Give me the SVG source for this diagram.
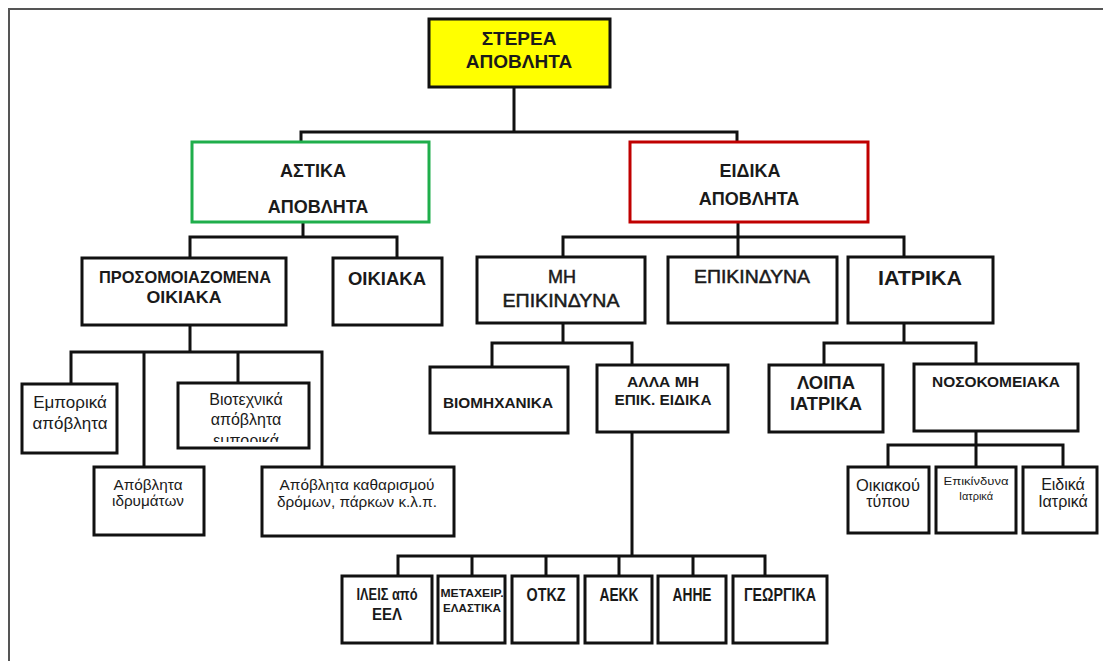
<svg xmlns="http://www.w3.org/2000/svg" width="1103" height="661" viewBox="0 0 1103 661">
<style>
.frame{fill:none;stroke:#555;stroke-width:2}
.box{fill:#fff;stroke:#111;stroke-width:3}
.conn{fill:none;stroke:#111;stroke-width:3;stroke-linejoin:miter}
text{font-family:"Liberation Sans",Arial,sans-serif;fill:#1a1a1a;text-anchor:middle}
.b{font-weight:bold}
.r{font-weight:normal}
.m{font-weight:normal;stroke:#1a1a1a;stroke-width:0.5}
</style>
<defs>
<clipPath id="clipBio"><rect x="180" y="384" width="129" height="58"/></clipPath>
</defs>
<rect width="1103" height="661" fill="#fff"/>
<path class="frame" d="M9,661 V9 H1103"/>

<g id="connectors">
<path class="conn" d="M514,87 V132 M301,142 V132 H737 V142"/>
<path class="conn" d="M303,222 V237 M190,258 V237 H397 V258"/>
<path class="conn" d="M738,222 V257 M563,257 V237 H904 V257"/>
<path class="conn" d="M190,325 V352 M71,384 V352 H322 V467 M144,352 V467 M238,352 V383"/>
<path class="conn" d="M563,323 V343 M492,367 V343 H632 V365"/>
<path class="conn" d="M632,432 V556 M398,576 V556 H765 V576 M472,556 V576 M546,556 V576 M619,556 V576 M693,556 V576"/>
<path class="conn" d="M904,323 V343 M824,365 V343 H976 V364"/>
<path class="conn" d="M976,431 V445 M888,467 V445 H1063 V467 M976,445 V467"/>
</g>

<g id="n-root">
<rect x="429" y="19" width="181" height="68" fill="#ffff00" stroke="#111" stroke-width="3"/>
<text class="b" x="519" y="45" font-size="19">ΣΤΕΡΕΑ</text>
<text class="b" x="519" y="68" font-size="19">ΑΠΟΒΛΗΤΑ</text>
</g>

<g id="n-astika">
<rect x="192" y="142" width="237" height="80" fill="#fff" stroke="#1fae4b" stroke-width="3"/>
<text class="b" x="313" y="177" font-size="18">ΑΣΤΙΚΑ</text>
<text class="b" x="318" y="213" font-size="18">ΑΠΟΒΛΗΤΑ</text>
</g>

<g id="n-eidika">
<rect x="630" y="142" width="238" height="80" fill="#fff" stroke="#c00000" stroke-width="3"/>
<text class="b" x="750" y="177" font-size="18">ΕΙΔΙΚΑ</text>
<text class="b" x="749" y="205" font-size="18">ΑΠΟΒΛΗΤΑ</text>
</g>

<g id="n-prosomoiazomena">
<rect class="box" x="82" y="258" width="204" height="67"/>
<text class="b" x="185" y="283" font-size="17" textLength="172" lengthAdjust="spacingAndGlyphs">ΠΡΟΣΟΜΟΙΑΖΟΜΕΝΑ</text>
<text class="b" x="184" y="303" font-size="17" textLength="75" lengthAdjust="spacingAndGlyphs">ΟΙΚΙΑΚΑ</text>
</g>

<g id="n-oikiaka">
<rect class="box" x="333" y="258" width="109" height="67"/>
<text class="b" x="387" y="285" font-size="18" textLength="78" lengthAdjust="spacingAndGlyphs">ΟΙΚΙΑΚΑ</text>
</g>

<g id="n-mi-epikindyna">
<rect class="box" x="477" y="257" width="168" height="66"/>
<text class="m" x="562" y="283" font-size="18">ΜΗ</text>
<text class="m" x="561" y="307" font-size="18" textLength="117" lengthAdjust="spacingAndGlyphs">ΕΠΙΚΙΝΔΥΝΑ</text>
</g>

<g id="n-epikindyna">
<rect class="box" x="668" y="257" width="169" height="66"/>
<text class="m" x="752" y="283" font-size="18" textLength="116" lengthAdjust="spacingAndGlyphs">ΕΠΙΚΙΝΔΥΝΑ</text>
</g>

<g id="n-iatrika">
<rect class="box" x="848" y="257" width="145" height="66"/>
<text class="b" x="920" y="285" font-size="20" textLength="84" lengthAdjust="spacingAndGlyphs">ΙΑΤΡΙΚΑ</text>
</g>

<g id="n-emporika">
<rect class="box" x="22" y="384" width="95" height="69"/>
<text class="r" x="70" y="408" font-size="17">Εμπορικά</text>
<text class="r" x="70" y="429" font-size="17">απόβλητα</text>
</g>

<g id="n-idrymaton">
<rect class="box" x="94" y="467" width="110" height="68"/>
<text class="r" x="148" y="490" font-size="14" textLength="69" lengthAdjust="spacingAndGlyphs">Απόβλητα</text>
<text class="r" x="148" y="506" font-size="14" textLength="72" lengthAdjust="spacingAndGlyphs">ιδρυμάτων</text>
</g>

<g id="n-viotechnika">
<rect class="box" x="178" y="383" width="131" height="65"/>
<g clip-path="url(#clipBio)">
<text class="r" x="246" y="405" font-size="16">Βιοτεχνικά</text>
<text class="r" x="246" y="425" font-size="16">απόβλητα</text>
<text class="r" x="246" y="446" font-size="16">εμπορικά</text>
</g>
</g>

<g id="n-katharismou">
<rect class="box" x="262" y="467" width="192" height="69"/>
<text class="r" x="357" y="490" font-size="14" textLength="155" lengthAdjust="spacingAndGlyphs">Απόβλητα καθαρισμού</text>
<text class="r" x="357" y="507" font-size="14" textLength="160" lengthAdjust="spacingAndGlyphs">δρόμων, πάρκων κ.λ.π.</text>
</g>

<g id="n-viomichanika">
<rect class="box" x="430" y="367" width="138" height="66"/>
<text class="b" x="498" y="408" font-size="15" textLength="110" lengthAdjust="spacingAndGlyphs">ΒΙΟΜΗΧΑΝΙΚΑ</text>
</g>

<g id="n-alla-mi">
<rect class="box" x="597" y="365" width="131" height="67"/>
<text class="b" x="663" y="387" font-size="14" textLength="72" lengthAdjust="spacingAndGlyphs">ΑΛΛΑ ΜΗ</text>
<text class="b" x="663" y="405" font-size="14" textLength="97" lengthAdjust="spacingAndGlyphs">ΕΠΙΚ. ΕΙΔΙΚΑ</text>
</g>

<g id="n-loipa">
<rect class="box" x="769" y="365" width="114" height="67"/>
<text class="b" x="826" y="389" font-size="18" textLength="58" lengthAdjust="spacingAndGlyphs">ΛΟΙΠΑ</text>
<text class="b" x="826" y="410" font-size="18" textLength="72" lengthAdjust="spacingAndGlyphs">ΙΑΤΡΙΚΑ</text>
</g>

<g id="n-nosokomeiaka">
<rect class="box" x="914" y="364" width="164" height="67"/>
<text class="b" x="996" y="387" font-size="14" textLength="128" lengthAdjust="spacingAndGlyphs">ΝΟΣΟΚΟΜΕΙΑΚΑ</text>
</g>

<g id="n-oikiakou">
<rect class="box" x="848" y="467" width="81" height="66"/>
<text class="r" x="888" y="491" font-size="16" textLength="64" lengthAdjust="spacingAndGlyphs">Οικιακού</text>
<text class="r" x="888" y="507" font-size="16">τύπου</text>
</g>

<g id="n-epikindyna-iatrika">
<rect class="box" x="936" y="467" width="80" height="66"/>
<text class="r" x="976" y="485" font-size="11" textLength="65" lengthAdjust="spacingAndGlyphs">Επικίνδυνα</text>
<text class="r" x="976" y="500" font-size="11">Ιατρικά</text>
</g>

<g id="n-eidika-iatrika">
<rect class="box" x="1023" y="467" width="74" height="66"/>
<text class="r" x="1063" y="490" font-size="16">Ειδικά</text>
<text class="r" x="1063" y="507" font-size="16">Ιατρικά</text>
</g>

<g id="n-ileis">
<rect class="box" x="342" y="576" width="90" height="67"/>
<text class="b" x="387" y="600" font-size="16" textLength="61" lengthAdjust="spacingAndGlyphs">ΙΛΕΙΣ από</text>
<text class="b" x="387" y="620" font-size="16" textLength="30" lengthAdjust="spacingAndGlyphs">ΕΕΛ</text>
</g>

<g id="n-metaxeir">
<rect class="box" x="438" y="576" width="67" height="67"/>
<text class="b" x="472" y="597" font-size="11" textLength="63" lengthAdjust="spacingAndGlyphs">ΜΕΤΑΧΕΙΡ.</text>
<text class="b" x="472" y="612" font-size="11" textLength="58" lengthAdjust="spacingAndGlyphs">ΕΛΑΣΤΙΚΑ</text>
</g>

<g id="n-otkz">
<rect class="box" x="512" y="576" width="66" height="67"/>
<text class="b" x="546" y="601" font-size="19" textLength="39" lengthAdjust="spacingAndGlyphs">ΟΤΚΖ</text>
</g>

<g id="n-aekk">
<rect class="box" x="585" y="576" width="67" height="67"/>
<text class="b" x="619" y="601" font-size="19" textLength="39" lengthAdjust="spacingAndGlyphs">ΑΕΚΚ</text>
</g>

<g id="n-ahhe">
<rect class="box" x="658" y="576" width="68" height="67"/>
<text class="b" x="692" y="601" font-size="19" textLength="39" lengthAdjust="spacingAndGlyphs">ΑΗΗΕ</text>
</g>

<g id="n-georgika">
<rect class="box" x="733" y="576" width="94" height="67"/>
<text class="b" x="780" y="601" font-size="19" textLength="72" lengthAdjust="spacingAndGlyphs">ΓΕΩΡΓΙΚΑ</text>
</g>
</svg>
